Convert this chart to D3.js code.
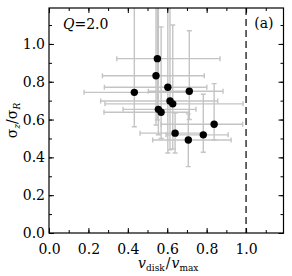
<!DOCTYPE html>
<html lang="en">
<head>
    <meta charset="UTF-8">
    <title>sigma ratio vs vdisk/vmax</title>
    <script src="https://cdn.jsdelivr.net/npm/d3@7"></script>
    <style>
        body { margin: 0; background: #fff; }
        svg text { font-family: "DejaVu Serif", serif; fill: #000; }
    </style>
</head>
<body>
    <div id="chart-space"></div>

    <script>
        // values
        var vdisk  = [0.550, 0.543, 0.433, 0.603, 0.712, 0.614, 0.628, 0.555, 0.569, 0.838, 0.640, 0.783, 0.707];
        var sigma  = [0.922, 0.832, 0.744, 0.771, 0.750, 0.698, 0.683, 0.654, 0.639, 0.575, 0.528, 0.519, 0.492];
        var vdiskLo = [0.344, 0.271, 0.178, 0.281, 0.504, 0.262, 0.284, 0.376, 0.279, 0.569, 0.462, 0.594, 0.526];
        var vdiskHi = [0.868, 0.788, 0.716, 0.801, 0.883, 0.856, 0.985, 0.746, 0.711, 0.983, 0.782, 0.909, 0.924];
        var sigmaLo = [0.598, 0.571, 0.562, 0.423, 0.600, 0.440, 0.444, 0.520, 0.500, 0.492, 0.423, 0.427, 0.351];
        var sigmaHi = [1.300, 1.300, 1.300, 1.300, 1.070, 1.300, 1.100, 1.300, 1.090, 0.790, 0.635, 0.734, 0.630];
        var tickValues = [0.0, 0.2, 0.4, 0.6, 0.8, 1.0];
        var minorTicks = d3.range(0, 1.19, 0.1);

        var width = 292;
        var height = 276;
        var margin = {top: 8, right: 8.5, bottom: 43, left: 49};
        var chartWidth = width - margin.left - margin.right;
        var chartHeight = height - margin.top - margin.bottom;
        var serif = "'DejaVu Serif', serif";

        var points = vdisk.map(function(d, i) {
            return {x: d, y: sigma[i], xl: vdiskLo[i], xh: vdiskHi[i], yl: sigmaLo[i], yh: sigmaHi[i]};
        });

        var svg = d3.select("#chart-space")
            .append("svg")
            .attr("width", width)
            .attr("height", height)
            .append("g")
            .attr("transform", "translate(" + margin.left + "," + margin.top + ")");

        var xScale = d3.scaleLinear().domain([0, 1.19]).range([0, chartWidth]);
        var yScale = d3.scaleLinear().domain([0, 1.19]).range([chartHeight, 0]);

        svg.append("clipPath").attr("id", "clip")
            .append("rect").attr("width", chartWidth).attr("height", chartHeight);

        var plot = svg.append("g").attr("clip-path", "url(#clip)");

        var grey = "#c4c4c4";
        var cap = 2.5;

        // error bars
        var bars = plot.selectAll("g.err")
            .data(points)
            .join("g")
            .attr("class", "err")
            .attr("stroke", grey)
            .attr("stroke-width", 1.4);

        bars.append("line")
            .attr("x1", function(d) { return xScale(d.xl); })
            .attr("x2", function(d) { return xScale(d.xh); })
            .attr("y1", function(d) { return yScale(d.y); })
            .attr("y2", function(d) { return yScale(d.y); });
        bars.append("line")
            .attr("x1", function(d) { return xScale(d.x); })
            .attr("x2", function(d) { return xScale(d.x); })
            .attr("y1", function(d) { return yScale(d.yl); })
            .attr("y2", function(d) { return yScale(d.yh); });
        ["xl", "xh"].forEach(function(k) {
            bars.append("line")
                .attr("x1", function(d) { return xScale(d[k]); })
                .attr("x2", function(d) { return xScale(d[k]); })
                .attr("y1", function(d) { return yScale(d.y) - cap; })
                .attr("y2", function(d) { return yScale(d.y) + cap; });
        });
        ["yl", "yh"].forEach(function(k) {
            bars.append("line")
                .attr("x1", function(d) { return xScale(d.x) - cap; })
                .attr("x2", function(d) { return xScale(d.x) + cap; })
                .attr("y1", function(d) { return yScale(d[k]); })
                .attr("y2", function(d) { return yScale(d[k]); });
        });

        // dashed line at vdisk = vmax
        plot.append("line")
            .attr("x1", xScale(1)).attr("x2", xScale(1))
            .attr("y1", 0).attr("y2", chartHeight)
            .attr("stroke", "#000")
            .attr("stroke-width", 1.2)
            .attr("stroke-dasharray", "7,4");

        plot.selectAll("circle")
            .data(points)
            .join("circle")
            .attr("cx", function(d) { return xScale(d.x); })
            .attr("cy", function(d) { return yScale(d.y); })
            .attr("r", 3.7)
            .attr("fill", "#000");

        // axes: ticks pointing inward on all four sides
        function styleAxis(g) {
            g.attr("font-family", serif).attr("font-size", 14);
            g.select(".domain").remove();
            g.selectAll("line").attr("stroke", "#000").attr("stroke-width", 1);
        }

        svg.append("g")
            .attr("transform", "translate(0," + chartHeight + ")")
            .call(d3.axisBottom(xScale).tickValues(minorTicks).tickSize(-3).tickFormat(""))
            .call(styleAxis);
        svg.append("g")
            .attr("transform", "translate(0," + chartHeight + ")")
            .call(d3.axisBottom(xScale).tickValues(tickValues).tickSize(-5).tickPadding(11).tickFormat(d3.format(".1f")))
            .call(styleAxis);
        svg.append("g")
            .call(d3.axisTop(xScale).tickValues(minorTicks).tickSize(-3).tickFormat(""))
            .call(styleAxis);
        svg.append("g")
            .call(d3.axisTop(xScale).tickValues(tickValues).tickSize(-5).tickFormat(""))
            .call(styleAxis);
        svg.append("g")
            .call(d3.axisLeft(yScale).tickValues(minorTicks).tickSize(-3).tickFormat(""))
            .call(styleAxis);
        svg.append("g")
            .call(d3.axisLeft(yScale).tickValues(tickValues).tickSize(-5).tickPadding(4).tickFormat(d3.format(".1f")))
            .call(styleAxis);
        svg.append("g")
            .attr("transform", "translate(" + chartWidth + ",0)")
            .call(d3.axisRight(yScale).tickValues(minorTicks).tickSize(-3).tickFormat(""))
            .call(styleAxis);
        svg.append("g")
            .attr("transform", "translate(" + chartWidth + ",0)")
            .call(d3.axisRight(yScale).tickValues(tickValues).tickSize(-5).tickFormat(""))
            .call(styleAxis);

        svg.append("rect")
            .attr("width", chartWidth)
            .attr("height", chartHeight)
            .attr("fill", "none")
            .attr("stroke", "#000")
            .attr("stroke-width", 1.2);

        // annotations
        var q = svg.append("text").attr("x", 14).attr("y", 21).style("font-size", "14px");
        q.append("tspan").style("font-style", "italic").text("Q");
        q.append("tspan").text("=2.0");

        svg.append("text")
            .attr("x", chartWidth - 10).attr("y", 20)
            .attr("text-anchor", "end")
            .style("font-size", "14px")
            .text("(a)");

        // axis titles
        var xt = svg.append("text")
            .attr("x", chartWidth / 2 + 2).attr("y", chartHeight + 35)
            .attr("text-anchor", "middle")
            .style("font-size", "14px");
        xt.append("tspan").style("font-style", "italic").text("v");
        xt.append("tspan").attr("dy", 3).style("font-size", "9px").text("disk");
        xt.append("tspan").attr("dy", -3).attr("dx", 1).text("/");
        xt.append("tspan").attr("dx", 1).style("font-style", "italic").text("v");
        xt.append("tspan").attr("dy", 3).style("font-size", "9px").text("max");

        var yt = svg.append("text")
            .attr("transform", "translate(" + (-32) + "," + (chartHeight / 2) + ") rotate(-90)")
            .attr("text-anchor", "middle")
            .style("font-size", "14px");
        yt.append("tspan").text("σ");
        yt.append("tspan").attr("dy", 3).style("font-size", "9px").style("font-style", "italic").text("z");
        yt.append("tspan").attr("dy", -3).text("/σ");
        yt.append("tspan").attr("dy", 3).style("font-size", "9px").style("font-style", "italic").text("R");
    </script>
</body>
</html>
